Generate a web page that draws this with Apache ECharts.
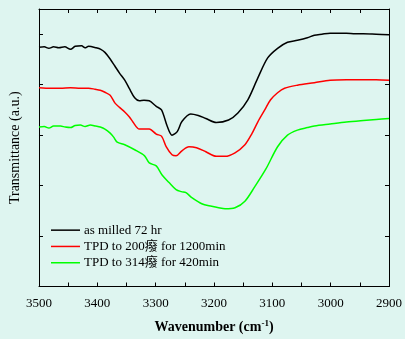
<!DOCTYPE html>
<html><head><meta charset="utf-8">
<script src="https://cdn.jsdelivr.net/npm/echarts@6/dist/echarts.min.js"></script>
<style>html,body{margin:0;padding:0;background:#def5f0}#c{width:405px;height:339px}</style>
</head><body><div id="c"></div>
<script>
var seriesNames = ['as milled 72 hr', 'TPD to 200癈 for 1200min', 'TPD to 314癈 for 420min'];
var xTicks = [3500, 3400, 3300, 3200, 3100, 3000, 2900];

var blackWn = [3500,3491,3483,3475,3466,3456,3446,3438,3427,3421,3415,3402,3394,3387,3378,3370,3362,3353,3345,3336,3328,3320,3311,3299,3290,3280,3272,3263,3255,3240,3227,3214,3196,3175,3159,3142,3125,3108,3091,3074,3057,3040,3028,3015,3001,2987,2973,2958,2944,2922,2900];
var blackT  = [47.4,47.5,47.2,47.5,47.3,47.5,47.0,47.6,47.7,47.3,47.6,47.3,47.0,46.4,45.1,43.7,42.3,40.9,39.2,37.4,36.8,36.9,36.8,35.7,35.0,31.7,30.0,30.7,32.7,34.2,33.9,33.3,32.5,33.0,34.4,37.0,41.3,45.3,47.2,48.4,48.8,49.3,49.8,50.0,50.2,50.2,50.2,50.1,50.1,50.0,49.9];

var redWn = [3500,3480,3463,3446,3429,3415,3404,3395,3387,3378,3370,3362,3353,3345,3339,3328,3319,3311,3299,3290,3282,3272,3265,3255,3243,3230,3214,3196,3181,3164,3147,3135,3125,3113,3103,3091,3079,3057,3028,3001,2973,2944,2922,2900];
var redT  = [39.4,39.3,39.3,39.4,39.3,39.3,39.1,38.9,38.5,37.9,36.4,35.5,34.6,33.6,32.6,31.2,31.2,31.2,30.2,29.8,27.7,26.1,25.9,26.9,27.7,27.5,26.7,25.8,25.8,26.5,28.1,30.3,32.6,35.0,37.0,38.4,39.3,39.9,40.4,40.9,41.0,41.0,41.0,40.9];

var greenWn = [3500,3491,3483,3475,3463,3455,3446,3438,3429,3421,3412,3403,3395,3387,3378,3372,3366,3353,3336,3319,3311,3299,3289,3277,3265,3256,3248,3238,3221,3204,3192,3181,3164,3147,3130,3111,3091,3074,3057,3040,3028,3001,2973,2944,2922,2900];
var greenT  = [31.6,31.7,31.4,31.8,31.8,31.6,31.5,31.9,32.0,31.7,32.0,31.8,31.6,31.2,30.4,29.6,28.6,28.1,27.1,25.9,24.5,23.9,22.1,20.6,19.2,18.8,18.6,17.6,16.4,15.9,15.6,15.4,15.6,16.9,19.8,23.3,27.7,30.0,31.0,31.5,31.8,32.2,32.6,32.9,33.1,33.3];

var colors = ['#000000', '#ff0000', '#00ff00'];

function pairs(xs, ys) { return xs.map(function (x, i) { return [x, ys[i]]; }); }

var font = 'Liberation Serif, Times New Roman, Noto Sans CJK SC, serif';
var chart = echarts.init(document.getElementById('c'));
var xBase = {
  type: 'value', min: 2900, max: 3500, interval: 50, inverse: true,
  axisLine: { show: true, onZero: false, lineStyle: { color: '#000', width: 1 } },
  axisTick: { show: true, inside: true, length: 4, lineStyle: { color: '#000' } },
  splitLine: { show: false }
};
var yBase = {
  type: 'value', min: 0, max: 55, interval: 10,
  axisLine: { show: true, onZero: false, lineStyle: { color: '#000', width: 1 } },
  axisTick: { show: true, inside: true, length: 4, lineStyle: { color: '#000' } },
  axisLabel: { show: false },
  splitLine: { show: false }
};
chart.setOption({
  backgroundColor: '#def5f0',
  animation: false,
  grid: { left: 38, right: 12, top: 9, bottom: 52 },
  legend: {
    orient: 'vertical', left: 46, top: 217, itemWidth: 29, itemHeight: 1.5, itemGap: 0,
    icon: 'rect',
    textStyle: { fontFamily: font, fontSize: 13, color: '#000', lineHeight: 16.3, padding: [0, 0, 0, -1] },
    data: seriesNames
  },
  xAxis: [
    Object.assign({}, xBase, {
      position: 'bottom',
      name: '{b|Wavenumber (cm}{s|-1}{b|)}', nameLocation: 'middle', nameGap: 33,
      nameTextStyle: { rich: { b: { fontFamily: font, fontSize: 14, fontWeight: 'bold', color: '#000' }, s: { fontFamily: font, fontSize: 9, fontWeight: 'bold', color: '#000', verticalAlign: 'top', padding: [0, 0, 6, 0] } } },
      axisLabel: { show: true, margin: 11, fontFamily: font, fontSize: 13, color: '#000',
        formatter: function (v) { return xTicks.indexOf(v) >= 0 ? String(v) : ''; } }
    }),
    Object.assign({}, xBase, { position: 'top', axisLabel: { show: false } })
  ],
  yAxis: [
    Object.assign({}, yBase, {
      position: 'left', name: 'Transmittance (a.u.)', nameLocation: 'middle', nameGap: 17,
      nameTextStyle: { fontFamily: font, fontSize: 14, color: '#000' }
    }),
    Object.assign({}, yBase, { position: 'right' })
  ],
  series: [
    { name: seriesNames[0], type: 'line', data: pairs(blackWn, blackT) },
    { name: seriesNames[1], type: 'line', data: pairs(redWn, redT) },
    { name: seriesNames[2], type: 'line', data: pairs(greenWn, greenT) }
  ].map(function (s, i) {
    return Object.assign(s, { showSymbol: false, smooth: 0.3, color: colors[i],
      lineStyle: { color: colors[i], width: 1.5 }, xAxisIndex: 0, yAxisIndex: 0 });
  })
});
</script></body></html>
